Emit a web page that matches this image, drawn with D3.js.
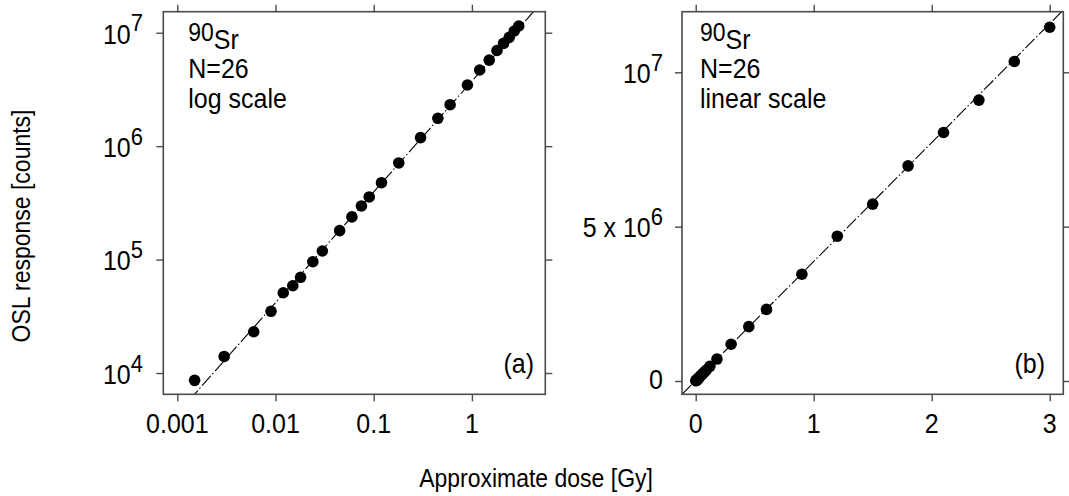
<!DOCTYPE html>
<html lang="en">
<head>
<meta charset="UTF-8">
<title>OSL dose response</title>
<script src="https://d3js.org/d3.v7.min.js"></script>
<style>
  body { margin: 0; background: #fff; }
  svg text { font-family: "Liberation Sans", Arial, sans-serif; fill: #000; }
</style>
</head>
<body>
<div id="main"></div>
<script>
// data
var doseGy = [0.0015, 0.003, 0.006, 0.009, 0.012, 0.015, 0.018, 0.024, 0.03, 0.045,
              0.06, 0.075, 0.09, 0.12, 0.18, 0.3, 0.45, 0.6, 0.9, 1.2,
              1.5, 1.8, 2.1, 2.4, 2.7, 3.0];
var oslCounts = [8620, 14000, 23100, 35000, 51000, 58800, 69800, 95800, 119000, 180000,
                 237700, 297000, 356600, 476000, 711000, 1190000, 1760000, 2320000, 3460000, 4690000,
                 5730000, 6970000, 8050000, 9100000, 10350000, 11460000];

// fitted lines as drawn (log10 y = a + b log10 x ; y = c + k x)
var logFit = {a: 6.573, b: 0.977};
var linFit = {c: 17000, k: 3.853e6};

var logXTicks = [0.001, 0.01, 0.1, 1];
var logXLabels = ['0.001', '0.01', '0.1', '1'];
var logYTicks = [1e4, 1e5, 1e6, 1e7];
var logYLabels = [['10', '4'], ['10', '5'], ['10', '6'], ['10', '7']];
var linXTicks = [0, 1, 2, 3];
var linXLabels = ['0', '1', '2', '3'];
var linYTicks = [0, 5e6, 1e7];
var linYLabels = [['0', ''], ['5 x 10', '6'], ['10', '7']];

var pts = doseGy.map(function(d, i) { return {x: d, y: oslCounts[i]}; });

var W = 1069, H = 496;
var fsTick = 25, fsAnn = 25, fsTitle = 23;
var sy = 1.1; // glyphs in the figure are a bit taller than wide
var axisCol = '#4a4a4a';

var svg = d3.select('#main').append('svg')
    .attr('width', W).attr('height', H)
    .style('background', '#fff');

// text placed at (x, y baseline), stretched vertically
function label(parent, x, y, anchor, size, parts) {
  var g = parent.append('g').attr('transform', 'translate(' + x + ',' + y + ') scale(1,' + sy + ')');
  var t = g.append('text').attr('text-anchor', anchor).attr('font-size', size);
  parts.forEach(function(p) {
    var s = t.append('tspan').text(p.t);
    if (p.dy) s.attr('dy', p.dy);
    if (p.fs) s.attr('font-size', p.fs);
  });
  return g;
}

function panel(opt) {
  var g = svg.append('g').attr('transform', 'translate(' + opt.left + ',' + opt.top + ')');
  var w = opt.w, h = opt.h;
  var x = opt.x.range([0, w]);
  var y = opt.y.range([h, 0]);

  var xb = g.append('g').attr('transform', 'translate(0,' + h + ')')
      .call(d3.axisBottom(x).tickValues(opt.xTicks).tickSizeInner(7).tickSizeOuter(0).tickFormat(''));
  var xt = g.append('g')
      .call(d3.axisTop(x).tickValues(opt.xTicks).tickSizeInner(7).tickSizeOuter(0).tickFormat(''));
  var yl = g.append('g')
      .call(d3.axisLeft(y).tickValues(opt.yTicks).tickSizeInner(7).tickSizeOuter(0).tickFormat(''));
  var yr = g.append('g').attr('transform', 'translate(' + w + ',0)')
      .call(d3.axisRight(y).tickValues(opt.yTicks).tickSizeInner(7).tickSizeOuter(0).tickFormat(''));

  [xb, xt, yl, yr].forEach(function(a) {
    a.select('.domain').remove();
    a.selectAll('.tick line').attr('stroke', axisCol).attr('stroke-width', 1.4);
  });

  // tick labels
  opt.xTicks.forEach(function(v, i) {
    label(g, x(v), 433 - opt.top, 'middle', fsTick, [{t: opt.xLabels[i]}]);
  });
  opt.yTicks.forEach(function(v, i) {
    var lab = opt.yLabels[i];
    var parts = [{t: lab[0]}];
    if (lab[1]) parts.push({t: lab[1], dy: '-0.5em', fs: '0.88em'});
    label(g, opt.yLabX, y(v) + (lab[1] ? 10.8 : 8), 'end', fsTick, parts);
  });

  // clip for the fit line
  var cid = 'clip' + opt.id;
  g.append('clipPath').attr('id', cid).append('rect').attr('width', w).attr('height', h);
  var plot = g.append('g').attr('clip-path', 'url(#' + cid + ')');

  var fitPts = opt.fitLine(x.domain());
  plot.append('path')
      .attr('d', d3.line().x(function(d) { return x(d[0]); }).y(function(d) { return y(d[1]); })(fitPts))
      .attr('fill', 'none').attr('stroke', '#000').attr('stroke-width', 1.1)
      .attr('stroke-dasharray', '13,2.5,1.5,2.5');

  g.selectAll('circle.pt').data(pts).enter().append('circle')
      .attr('class', 'pt')
      .attr('cx', function(d) { return x(d.x); })
      .attr('cy', function(d) { return y(d.y); })
      .attr('r', 5.8)
      .attr('fill', '#000');

  // frame
  g.append('rect').attr('width', w).attr('height', h)
      .attr('fill', 'none').attr('stroke', axisCol).attr('stroke-width', 1.6);

  // annotation
  label(g, opt.annX, 48.5 - opt.top, 'start', fsAnn,
        [{t: '90', dy: '-0.3em', fs: '0.92em'}, {t: 'Sr', dy: '0.3em'}]);
  label(g, opt.annX, 78.3 - opt.top, 'start', fsAnn, [{t: 'N=26'}]);
  label(g, opt.annX, 107.5 - opt.top, 'start', fsAnn, [{t: opt.scaleText}]);
  label(g, opt.tagX, 373 - opt.top, 'end', fsAnn, [{t: opt.tag}]);
}

// left panel: log-log
panel({
  id: 'a', left: 163.3, top: 11.7, w: 382, h: 382.6,
  x: d3.scaleLog().domain([0.00072, 5.59]),
  y: d3.scaleLog().domain([6491, 1.532e7]),
  xTicks: logXTicks, xLabels: logXLabels,
  yTicks: logYTicks, yLabels: logYLabels, yLabX: 143 - 163.3,
  fitLine: function(d) {
    return d.map(function(v) { return [v, Math.pow(10, logFit.a + logFit.b * Math.log10(v))]; });
  },
  annX: 25, scaleText: 'log scale', tagX: 370.7, tag: '(a)'
});

// right panel: linear
panel({
  id: 'b', left: 682, top: 11.7, w: 381.3, h: 382.6,
  x: d3.scaleLinear().domain([-0.1161, 3.1153]),
  y: d3.scaleLinear().domain([-430800, 11963000]),
  xTicks: linXTicks, xLabels: linXLabels,
  yTicks: linYTicks, yLabels: linYLabels, yLabX: 663 - 682,
  fitLine: function(d) {
    return d.map(function(v) { return [v, linFit.c + linFit.k * v]; });
  },
  annX: 18, scaleText: 'linear scale', tagX: 363, tag: '(b)'
});

// outer axis titles
label(svg, 536, 486.5, 'middle', fsTitle, [{t: 'Approximate dose [Gy]'}]);

svg.append('g')
    .attr('transform', 'translate(30,226) rotate(-90) scale(1,' + sy + ')')
  .append('text')
    .attr('text-anchor', 'middle').attr('font-size', fsTitle)
    .text('OSL response [counts]');
</script>
</body>
</html>
